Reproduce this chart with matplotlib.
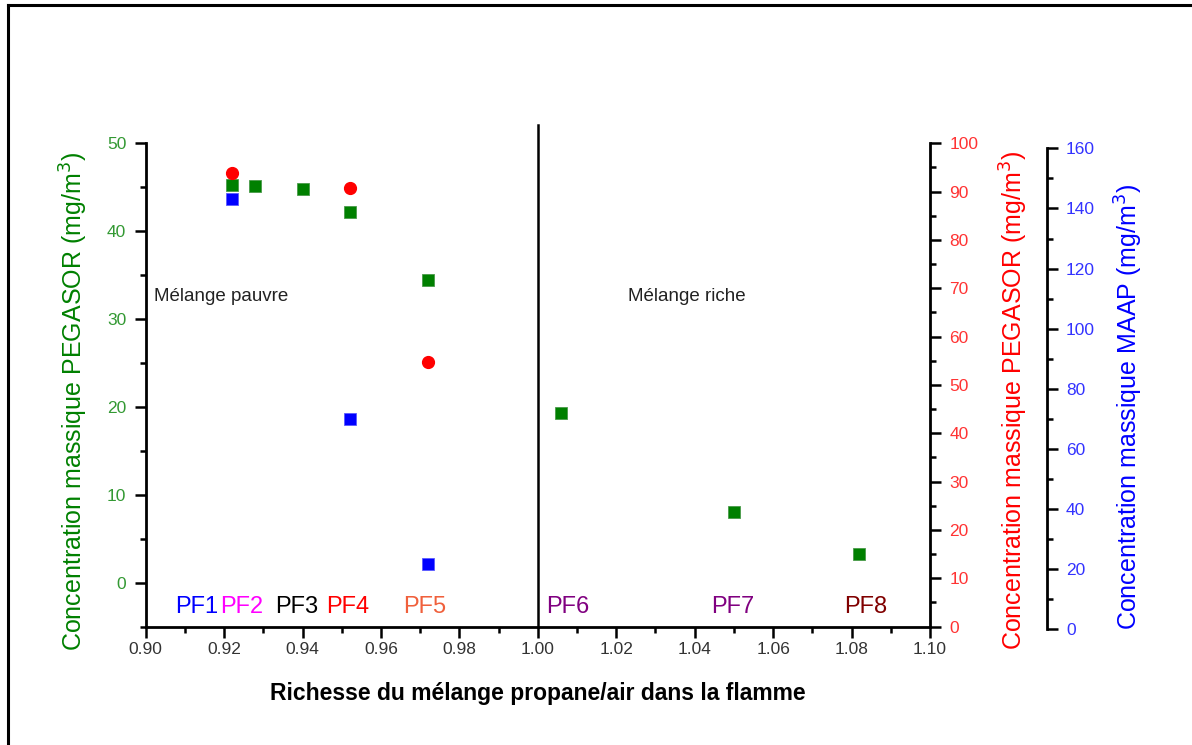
import numpy as np
import matplotlib.pyplot as plt
from matplotlib.ticker import MultipleLocator, FormatStrFormatter
from matplotlib.lines import Line2D

plt.rcParams['font.family'] = ['Liberation Sans', 'DejaVu Sans']

# richesse / concentrations
phi_peg = [0.922, 0.928, 0.940, 0.952, 0.972, 1.006, 1.050, 1.082]
peg_left = [45.3, 45.1, 44.8, 42.2, 34.4, 19.3, 8.0, 3.3]

phi_peg2 = [0.922, 0.952, 0.972]
peg_right = [93.9, 90.7, 54.7]

phi_maap = [0.922, 0.952, 0.972]
maap = [143.0, 70.0, 21.7]

pf_names = ['PF1', 'PF2', 'PF3', 'PF4', 'PF5', 'PF6', 'PF7', 'PF8']
pf_colors = ['#0000ff', '#ff00ff', '#000000', '#ff0000', '#f0603c',
             '#800080', '#800080', '#800000']
pf_x = [0.9075, 0.9191, 0.9330, 0.9460, 0.9657, 1.0021, 1.0443, 1.0781]

green = '#008000'
red = '#ff0000'
blue = '#0000ff'

fig = plt.figure(figsize=(11.92, 7.45), dpi=100)

# page frame (left and top edges only)
fig.add_artist(Line2D([8 / 1192, 8 / 1192], [0, 1 - 5 / 745], color='black', lw=2.2,
                      transform=fig.transFigure))
fig.add_artist(Line2D([8 / 1192, 1], [1 - 5 / 745, 1 - 5 / 745], color='black', lw=2.2,
                      transform=fig.transFigure))

pos = [0.1222, 0.1589, 0.6580, 0.6488]
ax = fig.add_axes(pos)
ax2 = ax.twinx()
ax3 = fig.add_axes([0.1222, 0.1553, 0.6580, 0.6456], sharex=ax)
ax3.patch.set_visible(False)

for a in (ax, ax2, ax3):
    for s in a.spines.values():
        s.set_visible(False)
    a.tick_params(which='major', length=8, width=1.8, color='black', labelsize=12.5)
    a.tick_params(which='minor', length=4.5, width=1.8, color='black')

ax.spines['left'].set_visible(True)
ax.spines['bottom'].set_visible(True)
ax.spines['left'].set_linewidth(2)
ax.spines['bottom'].set_linewidth(2)
ax2.spines['right'].set_visible(True)
ax2.spines['right'].set_linewidth(2)
ax3.spines['right'].set_visible(True)
ax3.spines['right'].set_linewidth(2)
ax3.spines['right'].set_position(('outward', 84))

ax.set_xlim(0.90, 1.10)
ax.set_ylim(-5, 50)
ax.xaxis.set_major_locator(MultipleLocator(0.02))
ax.xaxis.set_minor_locator(MultipleLocator(0.01))
ax.xaxis.set_major_formatter(FormatStrFormatter('%.2f'))
ax.yaxis.set_major_locator(MultipleLocator(10))
ax.yaxis.set_minor_locator(MultipleLocator(5))
ax.tick_params(axis='x', labelcolor='#333333', pad=3)
ax.tick_params(axis='y', labelcolor='#339933', pad=6)

ax2.set_ylim(0, 100)
ax2.yaxis.set_major_locator(MultipleLocator(10))
ax2.yaxis.set_minor_locator(MultipleLocator(5))
ax2.tick_params(axis='y', labelcolor='#ff3333', pad=6)

ax3.set_ylim(0, 160)
ax3.yaxis.tick_right()
ax3.yaxis.set_label_position('right')
ax3.yaxis.set_major_locator(MultipleLocator(20))
ax3.yaxis.set_minor_locator(MultipleLocator(10))
ax3.tick_params(axis='y', labelcolor='#3333ff', pad=6)
ax3.tick_params(axis='x', which='both', bottom=False, labelbottom=False)

ax.plot(phi_peg, peg_left, 's', color=green, ms=8, mec='#4a9a4a', mew=0.6, zorder=5)
ax2.plot(phi_peg2, peg_right, 'o', color=red, ms=8.5, mec=red, zorder=5)
ax3.plot(phi_maap, maap, 's', color=blue, ms=8, mec='#5b5bff', mew=0.6, zorder=5)

# separation pauvre / riche
ax.plot([1.0, 1.0], [-5, 52.1], color='black', lw=1.8, clip_on=False, zorder=3)

ax.text(0.902, 32.6, 'Mélange pauvre', fontsize=13.5, color='#222222', va='center')
ax.text(1.023, 32.6, 'Mélange riche', fontsize=13.5, color='#222222', va='center')

for name, c, x in zip(pf_names, pf_colors, pf_x):
    ax.text(x, -2.8, name, color=c, fontsize=17, va='center', ha='left')

ax.set_xlabel('Richesse du mélange propane/air dans la flamme', fontsize=16.5,
              fontweight='bold', labelpad=18)
ax.set_ylabel('Concentration massique PEGASOR (mg/m$^3$)', fontsize=18, color=green)
ax2.set_ylabel('Concentration massique PEGASOR (mg/m$^3$)', fontsize=18, color=red)
ax3.set_ylabel('Concentration massique MAAP (mg/m$^3$)', fontsize=18, color=blue)
ax.yaxis.set_label_coords(-0.071, 0.466)
ax2.yaxis.set_label_coords(1.087, 0.468)
ax3.yaxis.set_label_coords(1.233, 0.462)

fig.savefig('out.png', dpi=100)
